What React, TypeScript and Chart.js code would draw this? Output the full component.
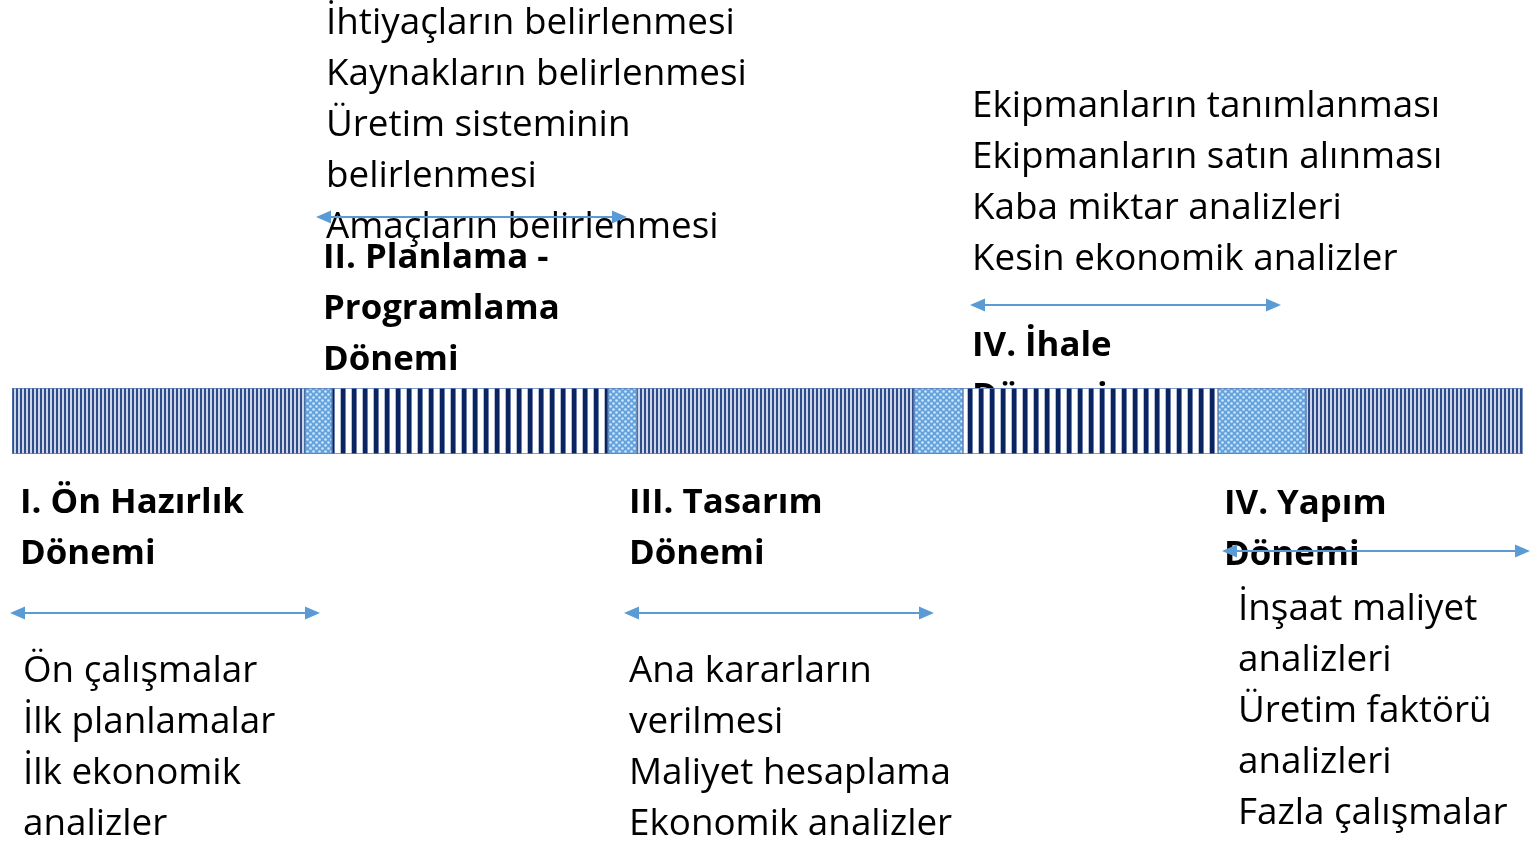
import React, { useEffect, useRef } from 'react';
import { Chart, registerables } from 'chart.js';

Chart.register(...registerables);

// ---- Data ----
const phaseNames = [
  'I. Ön Hazırlık Dönemi',
  'Geçiş 1',
  'II. Planlama - Programlama Dönemi',
  'Geçiş 2',
  'III. Tasarım Dönemi',
  'Geçiş 3',
  'IV. İhale Dönemi',
  'Geçiş 4',
  'IV. Yapım Dönemi',
];
const phaseDurations = [293, 27, 276, 29, 277, 49, 255, 88, 217];
const phaseTextures = ['fine', 'dots', 'bold', 'dots', 'fine', 'dots', 'bold', 'dots', 'fine'];

const planningItems = ['İhtiyaçların belirlenmesi', 'Kaynakların belirlenmesi', 'Üretim sisteminin', 'belirlenmesi', 'Amaçların belirlenmesi'];
const planningTitle = ['II. Planlama -', 'Programlama', 'Dönemi'];
const tenderItems = ['Ekipmanların tanımlanması', 'Ekipmanların satın alınması', 'Kaba miktar analizleri', 'Kesin ekonomik analizler'];
const tenderTitle = ['IV. İhale', 'Dönemi'];
const prepTitle = ['I. Ön Hazırlık', 'Dönemi'];
const prepItems = ['Ön çalışmalar', 'İlk planlamalar', 'İlk ekonomik', 'analizler'];
const designTitle = ['III. Tasarım', 'Dönemi'];
const designItems = ['Ana kararların', 'verilmesi', 'Maliyet hesaplama', 'Ekonomik analizler'];
const buildTitle = ['IV. Yapım', 'Dönemi'];
const buildItems = ['İnşaat maliyet', 'analizleri', 'Üretim faktörü', 'analizleri', 'Fazla çalışmalar'];

// ---- Layout / style ----
const FONT = '"Open Sans", "DejaVu Sans", sans-serif';
const NORMAL_SIZE = 36.8;
const BOLD_SIZE = 34.8;
const LINE_H = 51;
const ARROW_COLOR = '#5B9BD5';

const textBlocks = [
  { lines: planningItems, x: 326, y: 24, bold: false },
  { lines: planningTitle, x: 323, y: 258, bold: true },
  { lines: tenderItems, x: 972, y: 107, bold: false },
  { lines: tenderTitle, x: 972, y: 346, bold: true },
  { lines: prepTitle, x: 20, y: 503, bold: true },
  { lines: prepItems, x: 23, y: 672, bold: false },
  { lines: designTitle, x: 629, y: 503, bold: true },
  { lines: designItems, x: 629, y: 672, bold: false },
  { lines: buildTitle, x: 1224, y: 504, bold: true },
  { lines: buildItems, x: 1238, y: 610, bold: false },
];

const arrows = [
  { x1: 316, x2: 627, y: 217 },
  { x1: 970, x2: 1281, y: 305 },
  { x1: 10, x2: 320, y: 613 },
  { x1: 624, x2: 934, y: 613 },
  { x1: 1222, x2: 1530, y: 551 },
];

function makePattern(kind: string): CanvasPattern | string {
  const c = document.createElement('canvas');
  const ctx = c.getContext('2d');
  if (!ctx) return '#4472C4';
  if (kind === 'fine') {
    c.width = 4; c.height = 4;
    ctx.fillStyle = '#2F4D8A'; ctx.fillRect(0, 0, 2, 4);
    ctx.fillStyle = '#CDD5E6'; ctx.fillRect(2, 0, 2, 4);
  } else if (kind === 'bold') {
    c.width = 11; c.height = 4;
    ctx.fillStyle = '#0A2361'; ctx.fillRect(0, 0, 4, 4);
    ctx.fillStyle = '#7083AC'; ctx.fillRect(4, 0, 1, 4);
    ctx.fillStyle = '#FFFFFF'; ctx.fillRect(5, 0, 5, 4);
    ctx.fillStyle = '#B3BED4'; ctx.fillRect(10, 0, 1, 4);
  } else {
    c.width = 6; c.height = 6;
    ctx.fillStyle = '#66A3DC'; ctx.fillRect(0, 0, 6, 6);
    ctx.fillStyle = '#D2E7F8';
    ctx.beginPath(); ctx.arc(1.5, 1.5, 1.3, 0, Math.PI * 2); ctx.fill();
    ctx.beginPath(); ctx.arc(4.5, 4.5, 1.3, 0, Math.PI * 2); ctx.fill();
  }
  const p = ctx.createPattern(c, 'repeat');
  return p || '#4472C4';
}

function drawArrow(ctx: CanvasRenderingContext2D, x1: number, x2: number, y: number) {
  const head = 15, half = 6.5;
  ctx.save();
  ctx.strokeStyle = ARROW_COLOR;
  ctx.fillStyle = ARROW_COLOR;
  ctx.lineWidth = 2;
  ctx.beginPath();
  ctx.moveTo(x1 + head - 2, y);
  ctx.lineTo(x2 - head + 2, y);
  ctx.stroke();
  ctx.beginPath();
  ctx.moveTo(x1, y); ctx.lineTo(x1 + head, y - half); ctx.lineTo(x1 + head, y + half); ctx.closePath(); ctx.fill();
  ctx.beginPath();
  ctx.moveTo(x2, y); ctx.lineTo(x2 - head, y - half); ctx.lineTo(x2 - head, y + half); ctx.closePath(); ctx.fill();
  ctx.restore();
}

const annotationPlugin = {
  id: 'annotations',
  beforeDatasetsDraw(chart: any) {
    const ctx: CanvasRenderingContext2D = chart.ctx;
    ctx.save();
    ctx.fillStyle = '#000000';
    ctx.textAlign = 'left';
    ctx.textBaseline = 'middle';
    textBlocks.forEach((b) => {
      ctx.font = b.bold ? `bold ${BOLD_SIZE}px ${FONT}` : `${NORMAL_SIZE}px ${FONT}`;
      b.lines.forEach((t, i) => ctx.fillText(t, b.x, b.y + i * LINE_H));
    });
    ctx.restore();
    arrows.forEach((a) => drawArrow(ctx, a.x1, a.x2, a.y));
  },
};

export default function App() {
  const ref = useRef<HTMLCanvasElement | null>(null);
  useEffect(() => {
    if (!ref.current) return;
    const total = phaseDurations.reduce((s, v) => s + v, 0);
    const chart = new Chart(ref.current, {
      type: 'bar',
      data: {
        labels: ['Süreç'],
        datasets: phaseDurations.map((v, i) => ({
          label: phaseNames[i],
          data: [v],
          backgroundColor: makePattern(phaseTextures[i]) as any,
          borderColor: '#5A7DB3',
          borderWidth: 1,
          borderSkipped: false,
          barPercentage: 1,
          categoryPercentage: 1,
        })),
      },
      options: {
        indexAxis: 'y',
        animation: false,
        responsive: false,
        events: [],
        layout: { padding: { left: 12, right: 11, top: 388, bottom: 389 } },
        plugins: { legend: { display: false }, tooltip: { enabled: false }, title: { display: false } },
        scales: {
          x: { stacked: true, min: 0, max: total, display: false },
          y: { stacked: true, display: false },
        },
      },
      plugins: [annotationPlugin],
    });
    return () => chart.destroy();
  }, []);
  return (
    <div style={{ position: 'absolute', left: 0, top: 0, width: 1534, height: 843, background: '#ffffff' }}>
      <canvas ref={ref} width={1534} height={843} />
    </div>
  );
}
